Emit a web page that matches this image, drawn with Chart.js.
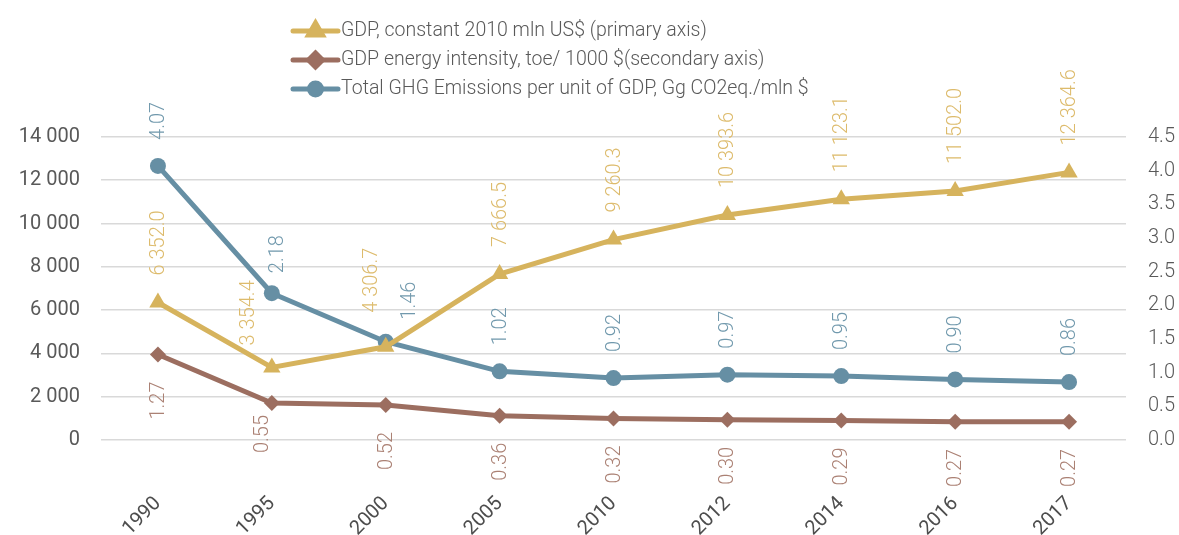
<!DOCTYPE html>
<html>
<head>
<meta charset="utf-8">
<script src="https://cdn.jsdelivr.net/npm/chart.js@4/dist/chart.umd.min.js"></script>
<style>
  html, body { margin: 0; padding: 0; background: #ffffff; }
  #wrap { width: 1179px; height: 535px; }
</style>
</head>
<body>
<div id="wrap"><canvas id="c" width="1179" height="535"></canvas></div>
<script>
// Years on the category axis
const years = ['1990', '1995', '2000', '2005', '2010', '2012', '2014', '2016', '2017'];

// GDP, constant 2010 mln US$ (left axis)
const gdp = [6352.0, 3354.4, 4306.7, 7666.5, 9260.3, 10393.6, 11123.1, 11502.0, 12364.6];

// GDP energy intensity, toe / 1000 $ (right axis)
const energyIntensity = [1.27, 0.55, 0.52, 0.36, 0.32, 0.30, 0.29, 0.27, 0.27];

// Total GHG emissions per unit of GDP, Gg CO2eq./mln $ (right axis)
const ghgPerGdp = [4.07, 2.18, 1.46, 1.02, 0.92, 0.97, 0.95, 0.90, 0.86];

// Axis ranges
const leftTicks = { min: 0, max: 14000, step: 2000 };
const rightTicks = { min: 0, max: 4.5, step: 0.5 };

const seriesNames = [
  'GDP, constant 2010 mln US$ (primary axis)',
  'GDP energy intensity, toe/ 1000 $(secondary axis)',
  'Total GHG Emissions per unit of GDP, Gg CO2eq./mln $'
];

const GOLD = '#d6b35d';
const BROWN = '#9c6e60';
const BLUE = '#668fa4';
const GOLD_TXT = '#ddbb6c';
const BROWN_TXT = '#ab8174';
const BLUE_TXT = '#7199ad';

function spaced(n, digits) {
  const s = n.toFixed(digits);
  const parts = s.split('.');
  parts[0] = parts[0].replace(/\B(?=(\d{3})+(?!\d))/g, ' ');
  return parts.join('.');
}

// Vertical value labels: above the point, or below it for the intensity series.
// "nudge" moves individual labels sideways / changes their gap where lines cross.
const valueLabels = {
  id: 'valueLabels',
  afterDatasetsDraw(chart) {
    const ctx = chart.ctx;
    chart.data.datasets.forEach((ds, di) => {
      const meta = chart.getDatasetMeta(di);
      const cfg = ds.labelCfg;
      meta.data.forEach((pt, i) => {
        const txt = spaced(ds.data[i], cfg.digits);
        const n = (cfg.nudge && cfg.nudge[i]) || {};
        const dx = n.dx || 0;
        const gap = n.gap !== undefined ? n.gap : cfg.gap;
        ctx.save();
        ctx.font = '300 20px Roboto';
        ctx.fillStyle = cfg.color;
        ctx.textBaseline = 'middle';
        if (cfg.below) {
          ctx.translate(pt.x + 1 + dx, pt.y + gap);
          ctx.rotate(-Math.PI / 2);
          ctx.textAlign = 'right';
        } else {
          ctx.translate(pt.x + 1 + dx, pt.y - gap);
          ctx.rotate(-Math.PI / 2);
          ctx.textAlign = 'left';
        }
        ctx.fillText(txt, 0, 0);
        ctx.restore();
      });
    });
  }
};

// Stacked legend: one series per row, line with its marker, then the name
const stackedLegend = {
  id: 'stackedLegend',
  afterDraw(chart) {
    const ctx = chart.ctx;
    const x0 = 293, x1 = 338, rowY = [31, 60, 89];
    chart.data.datasets.forEach((ds, i) => {
      const y = rowY[i];
      ctx.save();
      ctx.strokeStyle = ds.borderColor;
      ctx.lineWidth = 5;
      ctx.lineCap = 'round';
      ctx.beginPath();
      ctx.moveTo(x0, y);
      ctx.lineTo(x1, y);
      ctx.stroke();
      Chart.helpers.drawPoint(ctx, {
        pointStyle: ds.pointStyle,
        radius: ds.legendRadius,
        rotation: 0,
        borderWidth: 1
      }, (x0 + x1) / 2, y);
      ctx.fillStyle = ds.borderColor;
      ctx.fill();
      ctx.font = '300 19.5px Roboto';
      ctx.fillStyle = '#595959';
      ctx.textAlign = 'left';
      ctx.textBaseline = 'middle';
      ctx.fillText(ds.label, x1 + 3, y);
      ctx.restore();
    });
  }
};

new Chart(document.getElementById('c'), {
  type: 'line',
  data: {
    labels: years,
    datasets: [
      {
        label: seriesNames[0],
        data: gdp,
        yAxisID: 'y',
        borderColor: GOLD,
        backgroundColor: GOLD,
        borderWidth: 5,
        pointStyle: 'triangle',
        pointRadius: 10,
        pointBorderWidth: 0,
        legendRadius: 8,
        labelCfg: {
          color: GOLD_TXT, digits: 1, gap: 27, below: false,
          nudge: { 1: { dx: -24, gap: 22 }, 2: { dx: -15, gap: 34 } }
        }
      },
      {
        label: seriesNames[1],
        data: energyIntensity,
        yAxisID: 'y2',
        borderColor: BROWN,
        backgroundColor: BROWN,
        borderWidth: 5,
        pointStyle: 'rectRot',
        pointRadius: 8,
        pointBorderWidth: 0,
        legendRadius: 7,
        labelCfg: {
          color: BROWN_TXT, digits: 2, gap: 27, below: true,
          nudge: { 1: { dx: -10, gap: 12 } }
        }
      },
      {
        label: seriesNames[2],
        data: ghgPerGdp,
        yAxisID: 'y2',
        borderColor: BLUE,
        backgroundColor: BLUE,
        borderWidth: 5,
        pointStyle: 'circle',
        pointRadius: 8,
        pointBorderWidth: 0,
        legendRadius: 6,
        labelCfg: {
          color: BLUE_TXT, digits: 2, gap: 26, below: false,
          nudge: { 1: { dx: 5, gap: 20 }, 2: { dx: 23, gap: 22 } }
        }
      }
    ]
  },
  options: {
    responsive: false,
    animation: false,
    devicePixelRatio: 1,
    layout: { padding: { top: 137, left: 0, right: 0, bottom: 0 } },
    plugins: {
      legend: { display: false },
      tooltip: { enabled: false }
    },
    elements: { line: { tension: 0 } },
    scales: {
      x: {
        type: 'category',
        offset: true,
        grid: { display: false, drawTicks: false },
        border: { display: false },
        ticks: {
          minRotation: 45,
          maxRotation: 45,
          padding: 52,
          color: '#4d4d4d',
          font: { family: 'Roboto', size: 20, weight: 400 }
        },
        afterFit(scale) { scale.height = 95; }
      },
      y: {
        position: 'left',
        min: leftTicks.min,
        max: leftTicks.max,
        grid: { color: '#d9d9d9', lineWidth: 1.6, drawTicks: false },
        border: { display: false },
        ticks: {
          stepSize: leftTicks.step,
          padding: 21,
          color: '#595959',
          font: { family: 'Roboto', size: 20, weight: 400 },
          callback: v => spaced(v, 0)
        },
        afterFit(scale) { scale.width = 101; }
      },
      y2: {
        position: 'right',
        min: rightTicks.min,
        max: rightTicks.max,
        grid: { display: false, drawTicks: false },
        border: { display: false },
        ticks: {
          stepSize: rightTicks.step,
          padding: 22,
          color: '#595959',
          font: { family: 'Roboto', size: 20, weight: 300 },
          callback: v => v.toFixed(1)
        },
        afterFit(scale) { scale.width = 53; }
      }
    }
  },
  plugins: [valueLabels, stackedLegend]
});
</script>
</body>
</html>
